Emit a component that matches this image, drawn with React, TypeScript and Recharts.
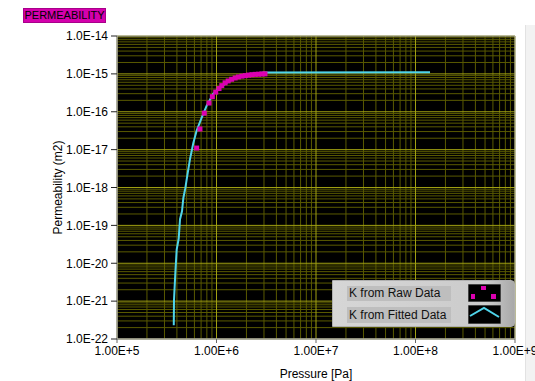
import React from 'react';
import {
  ComposedChart,
  Line,
  Scatter,
  XAxis,
  YAxis,
  CartesianGrid,
  ReferenceArea,
  Legend,
  Label,
} from 'recharts';

// fitted permeability curve
const fittedPressure = [
  3.72e5, 3.74e5, 3.85e5, 3.98e5, 4.17e5, 4.3e5, 4.5e5, 4.64e5, 4.86e5, 5.09e5, 5.42e5,
  5.85e5, 6.32e5, 7.1e5, 7.97e5, 9.29e5, 1.08e6, 1.37e6, 1.72e6, 2.17e6, 3.0e6, 1.4e8,
];
const fittedK = [
  2.3e-22, 1.07e-21, 5.0e-21, 2.3e-20, 4.5e-20, 1.45e-19, 2.35e-19, 5.2e-19, 9.6e-19, 2.1e-18,
  5.7e-18, 1.5e-17, 3.2e-17, 7.0e-17, 1.45e-16, 3.0e-16, 4.4e-16, 6.7e-16, 8.7e-16, 1.0e-15,
  1.08e-15, 1.1e-15,
];

// raw measurements
const rawPressure = [
  6.32e5, 6.82e5, 7.54e5, 8.41e5, 9.08e5, 9.82e5, 1.06e6, 1.13e6, 1.22e6, 1.31e6, 1.42e6,
  1.54e6, 1.66e6, 1.8e6, 1.95e6, 2.1e6, 2.27e6, 2.45e6, 2.65e6, 2.85e6, 3.07e6,
];
const rawK = [
  1.1e-17, 3.5e-17, 9.2e-17, 1.7e-16, 2.5e-16, 3.3e-16, 4.1e-16, 4.9e-16, 5.8e-16, 6.5e-16,
  7.2e-16, 7.8e-16, 8.3e-16, 8.7e-16, 9.0e-16, 9.3e-16, 9.5e-16, 9.7e-16, 9.8e-16, 9.9e-16,
  1.0e-15,
];

const xExponents = [5, 6, 7, 8, 9];
const yExponents = [-22, -21, -20, -19, -18, -17, -16, -15, -14];

const xTicks = xExponents.map((e) => Math.pow(10, e));
const yTicks = yExponents.map((e) => Math.pow(10, e));

const minorsOf = (exps: number[]) =>
  exps.slice(0, -1).flatMap((e) => [2, 3, 4, 5, 6, 7, 8, 9].map((m) => m * Math.pow(10, e)));
const xMinor = minorsOf(xExponents);
const yMinor = minorsOf(yExponents);

const fitted = fittedPressure.map((p, i) => ({ p, k: fittedK[i] }));
const raw = rawPressure.map((p, i) => ({ p, k: rawK[i] }));

const MAGENTA = '#dc00b0';
const CYAN = '#4fd4ea';
const FONT = '"Liberation Sans", Arial, sans-serif';

const expOf = (v: number) => Math.round(Math.log10(v));
const fmtX = (v: number) => `1.00E+${expOf(v)}`;
const fmtY = (v: number) => `1.0E${expOf(v)}`;

const Square = (props: any) => {
  const { cx, cy } = props;
  if (cx == null || cy == null) return null;
  return <rect x={cx - 2.5} y={cy - 2.5} width={5} height={5} fill={MAGENTA} />;
};

const LegendBox = () => (
  <div
    style={{
      position: 'relative',
      width: 183,
      height: 47,
      boxSizing: 'border-box',
      background: 'linear-gradient(to right, #d6d6d6 0%, #cbcbcb 85%, #a9a9a9 100%)',
      border: '1px solid #b0b0b0',
      borderRadius: '0 4px 4px 0',
      fontFamily: FONT,
      fontSize: 12,
      color: '#111',
    }}
  >
    {[
      { label: 'K from Raw Data', top: 4, h: 16 },
      { label: 'K from Fitted Data', top: 25, h: 17 },
    ].map((r, i) => (
      <React.Fragment key={r.label}>
        <div
          style={{
            position: 'absolute',
            left: 14,
            top: r.top + 1,
            width: 104,
            height: r.h - 1,
            background: '#bebebe',
            lineHeight: `${r.h - 1}px`,
            paddingLeft: 2,
            boxSizing: 'border-box',
          }}
        >
          {r.label}
        </div>
        <svg
          style={{ position: 'absolute', left: 135, top: r.top - 1 }}
          width={33}
          height={r.h + 2}
        >
          <rect x={0} y={0} width={33} height={r.h + 2} fill="#000" stroke="#888" />
          {i === 0 ? (
            <>
              <rect x={13} y={2} width={5} height={4} fill={MAGENTA} />
              <rect x={3} y={10} width={4} height={5} fill={MAGENTA} />
              <rect x={23} y={10} width={5} height={5} fill={MAGENTA} />
            </>
          ) : (
            <polyline points="2,11 16,3 31,12" fill="none" stroke={CYAN} strokeWidth={2} />
          )}
        </svg>
      </React.Fragment>
    ))}
  </div>
);

export default function App() {
  return (
    <div style={{ position: 'absolute', left: 0, top: 0, width: 535, height: 381, background: '#fff' }}>
      <div
        style={{
          position: 'absolute',
          left: 525,
          top: 25,
          width: 10,
          height: 356,
          background: '#f2f2f2',
          borderLeft: '1px solid #e2e2e2',
        }}
      />
      <div
        style={{
          position: 'absolute',
          left: 23,
          top: 8,
          width: 83,
          height: 15,
          boxSizing: 'border-box',
          background: '#d400ac',
          border: '1px solid #a8008a',
          fontFamily: FONT,
          fontSize: 11,
          lineHeight: '13px',
          textAlign: 'center',
          color: '#000',
        }}
      >
        PERMEABILITY
      </div>
      <div style={{ position: 'absolute', left: 0, top: 0 }}>
        <ComposedChart
          width={535}
          height={381}
          margin={{ top: 36, right: 20, left: 0, bottom: 0 }}
          style={{ fontFamily: FONT }}
        >
          <CartesianGrid
            fill="#000"
            fillOpacity={1}
            stroke="#5a5a00"
            horizontalValues={yMinor}
            verticalValues={xMinor}
          />
          <CartesianGrid stroke="#a0a012" horizontalValues={yTicks} verticalValues={xTicks} />
          <XAxis
            dataKey="p"
            type="number"
            scale="log"
            domain={[1e5, 1e9]}
            allowDataOverflow
            ticks={xTicks}
            interval={0}
            tickFormatter={fmtX}
            tick={{ fill: '#000', fontSize: 12 }}
            tickLine={{ stroke: '#666' }}
            tickSize={4}
            tickMargin={3}
            axisLine={{ stroke: '#a0a0a0' }}
            height={42}
          >
            <Label
              value="Pressure [Pa]"
              position="insideBottom"
              offset={3}
              style={{ fill: '#000', fontSize: 12 }}
            />
          </XAxis>
          <YAxis
            dataKey="k"
            type="number"
            scale="log"
            domain={[1e-22, 1e-14]}
            allowDataOverflow
            ticks={yTicks}
            interval={0}
            tickFormatter={fmtY}
            tick={{ fill: '#000', fontSize: 12 }}
            tickLine={{ stroke: '#222' }}
            tickSize={6}
            tickMargin={3}
            axisLine={{ stroke: '#a0a0a0' }}
            width={117}
          >
            <Label
              content={({ viewBox }: any) => {
                const x = viewBox.x + 58;
                const y = viewBox.y + viewBox.height / 2;
                return (
                  <text
                    x={x}
                    y={y}
                    transform={`rotate(-90 ${x} ${y})`}
                    textAnchor="middle"
                    dominantBaseline="central"
                    fill="#000"
                    fontSize={12}
                  >
                    Permeability (m2)
                  </text>
                );
              }}
            />
          </YAxis>
          <ReferenceArea
            x1={1e5}
            x2={1e9}
            y1={1e-22}
            y2={1e-14}
            fill="none"
            stroke="#a8a8a8"
            strokeWidth={1}
          />
          <Line
            data={fitted}
            dataKey="k"
            name="K from Fitted Data"
            type="linear"
            stroke={CYAN}
            strokeWidth={2}
            dot={false}
            activeDot={false}
            isAnimationActive={false}
          />
          <Scatter
            data={raw}
            dataKey="k"
            name="K from Raw Data"
            fill={MAGENTA}
            shape={Square}
            isAnimationActive={false}
          />
          <Legend
            layout="vertical"
            align="center"
            verticalAlign="middle"
            content={() => <LegendBox />}
            wrapperStyle={{ left: 332, top: 280, width: 183, height: 47 }}
          />
        </ComposedChart>
      </div>
    </div>
  );
}
